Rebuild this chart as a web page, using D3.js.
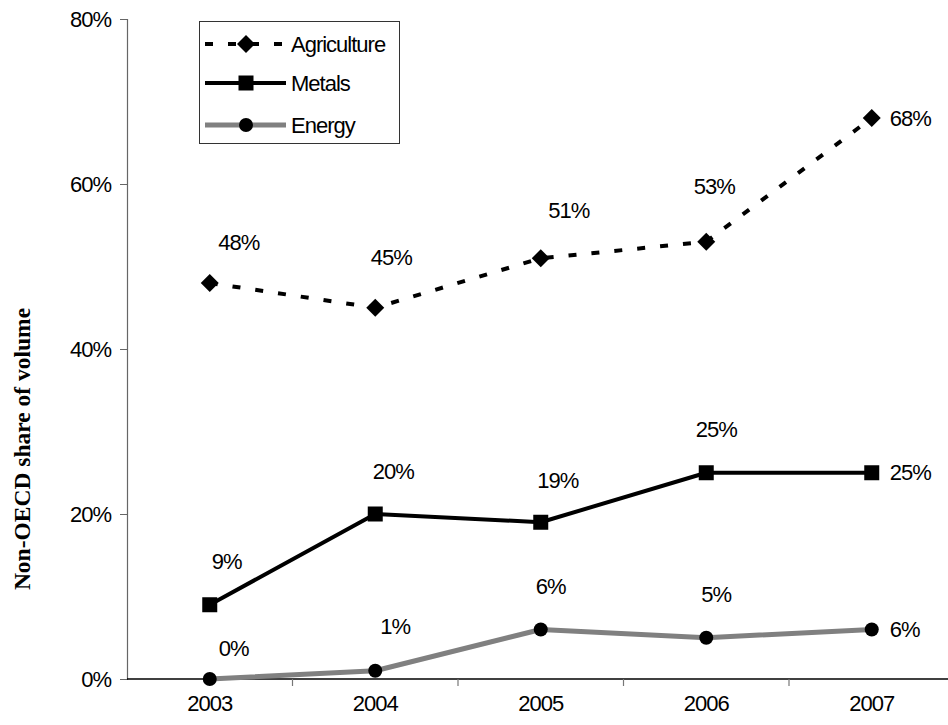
<!DOCTYPE html>
<html>
<head>
<meta charset="utf-8">
<script src="https://cdn.jsdelivr.net/npm/d3@7"></script>
<style>
  html, body { margin: 0; padding: 0; background: #fff; }
  svg { display: block; }
</style>
</head>
<body>
<svg id="chart" width="948" height="725"></svg>
<script>
// Non-OECD share of exchange-traded volume, by commodity group
const years = ["2003", "2004", "2005", "2006", "2007"];
const agriculture = [0.48, 0.45, 0.51, 0.53, 0.68];
const metals = [0.09, 0.20, 0.19, 0.25, 0.25];
const energy = [0.00, 0.01, 0.06, 0.05, 0.06];
const yTicks = [0, 0.2, 0.4, 0.6, 0.8];
const yTitle = "Non-OECD share of volume";

// Label placement relative to each point (last point gets its label on the right)
const labelNudge = {
  Agriculture: [[29, -41], [16, -50], [28, -48], [8, -55]],
  Metals:      [[17, -43], [18, -43], [17, -42], [10, -43]],
  Energy:      [[24, -31], [20, -44], [10, -43], [10, -43]]
};

const series = [
  { name: "Agriculture", values: agriculture, color: "#000", width: 4, dash: "8,15", marker: "diamond" },
  { name: "Metals", values: metals, color: "#000", width: 4, dash: null, marker: "square" },
  { name: "Energy", values: energy, color: "#808080", width: 5, dash: null, marker: "circle" }
];

const SANS = "'Liberation Sans', Arial, sans-serif";
const SERIF = "'Liberation Serif', 'Times New Roman', serif";

const svg = d3.select("#chart");
const plotLeft = 127, plotTop = 19, plotBottom = 679, band = 165.5;

const x = d3.scaleBand().domain(years).range([plotLeft, plotLeft + band * years.length]).paddingInner(0).paddingOuter(0);
const cx = d => x(d) + x.bandwidth() / 2;
const y = d3.scaleLinear().domain([0, 0.8]).range([plotBottom, plotTop]);
const pct = d3.format(".0%");

function labelStyle(sel) {
  sel.style("font-family", SANS).style("font-size", "22px")
    .style("letter-spacing", "-1px").style("fill", "#000");
}

// Y axis
const yAxis = svg.append("g").attr("transform", `translate(${plotLeft},0)`)
  .call(d3.axisLeft(y).tickValues(yTicks).tickFormat(pct).tickSize(7).tickPadding(9));
yAxis.select(".domain").attr("stroke", "#666").attr("stroke-width", 1.2);
yAxis.selectAll(".tick line").attr("stroke", "#666");
yAxis.selectAll(".tick text").call(labelStyle);

// X axis: category labels at band centres, tick marks at band edges
const xAxis = svg.append("g").attr("transform", `translate(0,${plotBottom})`)
  .call(d3.axisBottom(x).tickSize(0).tickPadding(16));
xAxis.select(".domain").remove();
xAxis.selectAll(".tick text").call(labelStyle);
svg.append("line").attr("x1", plotLeft).attr("x2", 948).attr("y1", plotBottom).attr("y2", plotBottom)
  .attr("stroke", "#000").attr("stroke-width", 1.5);
svg.append("g").selectAll("line").data(years.slice(1)).join("line")
  .attr("x1", d => x(d)).attr("x2", d => x(d))
  .attr("y1", plotBottom).attr("y2", plotBottom + 7)
  .attr("stroke", "#777").attr("stroke-width", 1.2);

// Y axis title
svg.append("text")
  .attr("transform", `translate(30,449) rotate(-90)`)
  .attr("text-anchor", "middle")
  .style("font-family", SERIF).style("font-weight", "bold").style("font-size", "23.5px")
  .style("fill", "#000")
  .text(yTitle);

// Marker drawing
function drawMarker(g, type, px, py) {
  if (type === "diamond") {
    g.append("path").attr("d", `M${px},${py - 9}L${px + 9},${py}L${px},${py + 9}L${px - 9},${py}Z`).attr("fill", "#000");
  } else if (type === "square") {
    g.append("rect").attr("x", px - 7.5).attr("y", py - 7.5).attr("width", 15).attr("height", 15).attr("fill", "#000");
  } else {
    g.append("circle").attr("cx", px).attr("cy", py).attr("r", 7).attr("fill", "#000");
  }
}

const line = d3.line().x((d, i) => cx(years[i])).y(d => y(d));

series.forEach(s => {
  const g = svg.append("g");
  g.append("path").datum(s.values)
    .attr("d", line).attr("fill", "none")
    .attr("stroke", s.color).attr("stroke-width", s.width)
    .attr("stroke-dasharray", s.dash).attr("stroke-linejoin", "round");
  s.values.forEach((v, i) => drawMarker(g, s.marker, cx(years[i]), y(v)));
  s.values.forEach((v, i) => {
    const last = i === s.values.length - 1;
    const t = g.append("text").call(labelStyle)
      .attr("dominant-baseline", "central").text(pct(v));
    if (last) {
      t.attr("x", cx(years[i]) + 18).attr("y", y(v)).attr("text-anchor", "start");
    } else {
      const [dx, dy] = labelNudge[s.name][i];
      t.attr("x", cx(years[i]) + dx).attr("y", y(v) + dy).attr("text-anchor", "middle");
    }
  });
});

// Legend
const lg = svg.append("g");
lg.append("rect").attr("x", 199.5).attr("y", 21.5).attr("width", 200).attr("height", 122)
  .attr("fill", "#fff").attr("stroke", "#333").attr("stroke-width", 1);
const rowY = [44, 83, 125];
series.forEach((s, i) => {
  const ry = rowY[i];
  lg.append("line").attr("x1", 205).attr("x2", 286).attr("y1", ry).attr("y2", ry)
    .attr("stroke", s.color).attr("stroke-width", s.width).attr("stroke-dasharray", s.dash);
  drawMarker(lg, s.marker, 246, ry);
  lg.append("text").attr("x", 291).attr("y", ry).attr("dominant-baseline", "central")
    .call(labelStyle).text(s.name);
});
</script>
</body>
</html>
